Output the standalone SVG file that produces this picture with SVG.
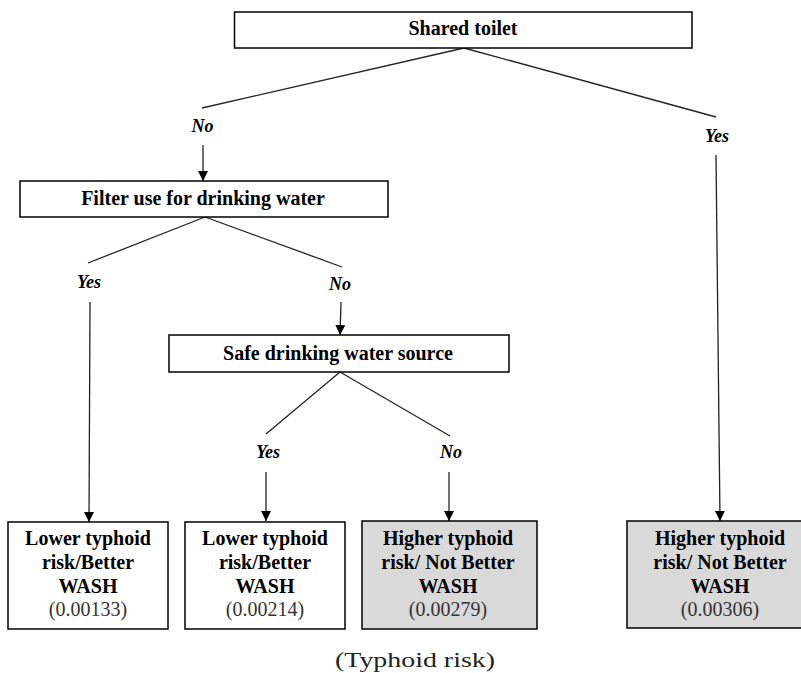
<svg xmlns="http://www.w3.org/2000/svg" width="801" height="673" viewBox="0 0 801 673" font-family="Liberation Serif, Times New Roman, Tinos, serif">
<defs>
<marker id="arr" markerUnits="userSpaceOnUse" markerWidth="10" markerHeight="11" refX="10" refY="5" orient="auto">
<path d="M0,0 L10,5 L0,10 Z" fill="#000"/>
</marker>
<style>
.box{fill:#fff;stroke:#000;stroke-width:1.5}
.gray{fill:#d9d9d9;stroke:#000;stroke-width:1.5}
.lbl{font-weight:bold;font-size:20px;fill:#000;text-anchor:middle}
.val{font-size:20px;fill:#333;text-anchor:middle}
.br{font-weight:bold;font-style:italic;font-size:18px;fill:#000;text-anchor:middle}
.ln{stroke:#222;stroke-width:1.3;fill:none}
.ar{stroke:#222;stroke-width:1.3;fill:none;marker-end:url(#arr)}
</style>
</defs>
<rect width="801" height="673" fill="#fff"/>

<g id="connectors">
<line class="ln" x1="464" y1="48" x2="202" y2="108"/>
<line class="ln" x1="464" y1="48" x2="716" y2="117"/>
<line class="ar" x1="203" y1="145" x2="203" y2="181"/>
<line class="ar" x1="716" y1="155" x2="720" y2="521"/>
<line class="ln" x1="205" y1="217" x2="88" y2="263"/>
<line class="ln" x1="205" y1="217" x2="342" y2="267"/>
<line class="ar" x1="90" y1="302" x2="89" y2="522"/>
<line class="ar" x1="341" y1="302" x2="340" y2="335"/>
<line class="ln" x1="340" y1="372" x2="266" y2="434"/>
<line class="ln" x1="340" y1="372" x2="450" y2="436"/>
<line class="ar" x1="266" y1="472" x2="266" y2="521"/>
<line class="ar" x1="449" y1="472" x2="449" y2="521"/>
<text class="br" x="202.5" y="132">No</text>
<text class="br" x="717" y="142">Yes</text>
<text class="br" x="89" y="288">Yes</text>
<text class="br" x="340" y="290">No</text>
<text class="br" x="268" y="458">Yes</text>
<text class="br" x="451" y="458">No</text>
</g>

<g id="shared-toilet">
<rect class="box" x="234.5" y="12" width="457.5" height="36"/>
<text class="lbl" x="463" y="35">Shared toilet</text>
</g>

<g id="filter-use">
<rect class="box" x="20" y="181" width="368" height="36"/>
<text class="lbl" x="203" y="205">Filter use for drinking water</text>
</g>

<g id="safe-source">
<rect class="box" x="169" y="335" width="340" height="37"/>
<text class="lbl" x="338" y="360">Safe drinking water source</text>
</g>

<g id="leaf1">
<rect class="box" x="8" y="522" width="160" height="107"/>
<text class="lbl" x="88" y="545">Lower typhoid</text>
<text class="lbl" x="88" y="569">risk/Better</text>
<text class="lbl" x="88" y="593">WASH</text>
<text class="val" x="88" y="616">(0.00133)</text>
</g>

<g id="leaf2">
<rect class="box" x="185" y="522" width="160" height="107"/>
<text class="lbl" x="265" y="545">Lower typhoid</text>
<text class="lbl" x="265" y="569">risk/Better</text>
<text class="lbl" x="265" y="593">WASH</text>
<text class="val" x="265" y="616">(0.00214)</text>
</g>

<g id="leaf3">
<rect class="gray" x="362" y="521" width="175" height="108"/>
<text class="lbl" x="448" y="545">Higher typhoid</text>
<text class="lbl" x="448" y="569">risk/ Not Better</text>
<text class="lbl" x="448" y="593">WASH</text>
<text class="val" x="448" y="616">(0.00279)</text>
</g>

<g id="leaf4">
<rect class="gray" x="627" y="521" width="186" height="107"/>
<text class="lbl" x="720" y="545">Higher typhoid</text>
<text class="lbl" x="720" y="569">risk/ Not Better</text>
<text class="lbl" x="720" y="593">WASH</text>
<text class="val" x="720" y="616">(0.00306)</text>
</g>

<g id="caption">
<text x="415" y="667" font-size="22" fill="#222" text-anchor="middle" textLength="160" lengthAdjust="spacingAndGlyphs">(Typhoid  risk)</text>
</g>
</svg>
